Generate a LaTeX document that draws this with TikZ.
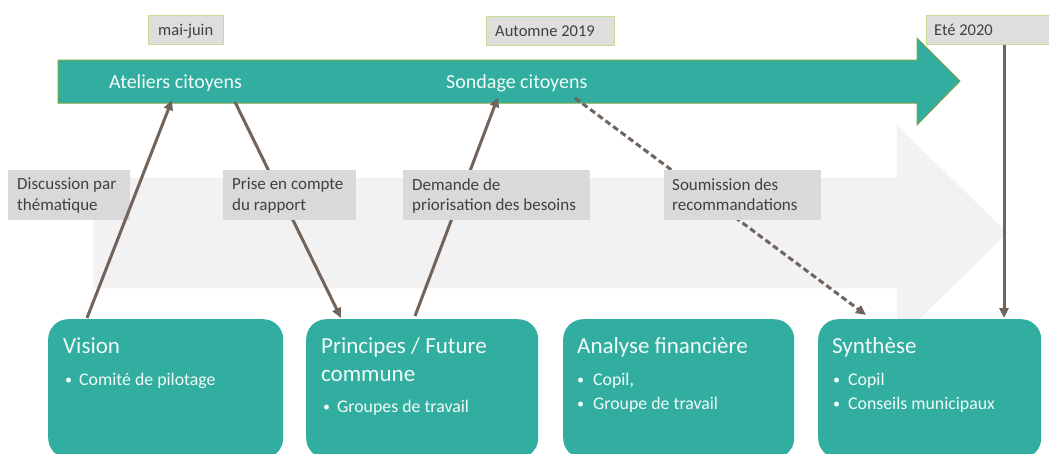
\documentclass[tikz,border=0pt]{standalone}
\usepackage{fontspec}
\setmainfont{Carlito}
\usetikzlibrary{arrows.meta,calc}
\definecolor{tealfill}{RGB}{49,174,160}
\definecolor{tealedge}{RGB}{125,165,70}
\definecolor{lgrey}{RGB}{242,242,242}
\definecolor{lblgrey}{RGB}{217,217,217}
\definecolor{dategrey}{RGB}{224,222,220}
\definecolor{dateedge}{RGB}{196,222,150}
\definecolor{connc}{RGB}{112,100,92}
\definecolor{txtgrey}{RGB}{64,64,64}
\definecolor{boxtxt}{RGB}{242,250,248}
\newcommand{\bul}[1]{\makebox[#1][l]{\raisebox{1pt}{\fontsize{14}{14}\selectfont •}}}
\begin{document}
\begin{tikzpicture}[x=1pt,y=-1pt,
  datebox/.style={draw=dateedge,line width=1.2pt,fill=dategrey,inner sep=0pt,anchor=north west},
  datetext/.style={text=txtgrey,font=\fontsize{16.5}{20}\selectfont,inner sep=0pt,anchor=base west},
  lblbox/.style={fill=lblgrey,inner sep=0pt,minimum height=50pt,anchor=north west},
  lbltext/.style={text=txtgrey,font=\fontsize{17}{20.8}\selectfont,inner sep=0pt,align=left,anchor=north west},
  stagebox/.style={fill=tealfill,rounded corners=20pt,inner sep=0pt,minimum height=139pt,anchor=north west},
  titletext/.style={text=boxtxt,font=\fontsize{23}{27.5}\selectfont,inner sep=0pt,anchor=base west,align=left},
  bullettext/.style={text=boxtxt,font=\fontsize{17.8}{24}\selectfont,inner sep=0pt,anchor=base west,align=left},
  arrowtext/.style={text=boxtxt,font=\fontsize{20}{24}\selectfont,inner sep=0pt,anchor=base west},
  conn/.style={draw=connc,line width=3pt,-{Triangle[length=10pt,width=9pt]}},
  dashconn/.style={conn,dash pattern=on 6pt off 3.5pt}]
\useasboundingbox (0,0) rectangle (1049,453);
\clip (0,0) rectangle (1049,453);
\fill[white] (0,0) rectangle (1049,453);

% background light grey arrow
\fill[lgrey] (93,178) -- (897,178) -- (897,125) -- (1007,233) -- (897,341) -- (897,288) -- (93,288) -- cycle;

% teal timeline arrow
\filldraw[fill=tealfill,draw=tealedge,line width=1pt] (58,60) -- (917,60) -- (917,38) -- (960,81) -- (917,125) -- (917,103) -- (58,103) -- cycle;
\node[arrowtext] (ateliers) at (109,88) {Ateliers citoyens};
\node[arrowtext] (sondage) at (446,88) {Sondage citoyens};

% date labels
\node[datebox,minimum width=75pt,minimum height=29pt] (mai) at (148,15) {};
\node[datetext] at (158,35) {mai-juin};
\node[datebox,minimum width=128pt,minimum height=29pt] (aut) at (486,16) {};
\node[datetext] at (495,36) {Automne 2019};
\node[datebox,minimum width=128pt,minimum height=29pt] (ete) at (926,15) {};
\node[datetext] at (934,35) {Eté 2020};

% stage boxes
\node[stagebox,minimum width=235pt] (vision) at (48,319) {};
\node[stagebox,minimum width=232pt] (princ) at (306,319) {};
\node[stagebox,minimum width=231pt] (analyse) at (563,319) {};
\node[stagebox,minimum width=223pt] (synth) at (818,319) {};

\node[titletext] at (63,353) {Vision};
\node[bullettext] at (65,385) {\bul{14pt}Comité de pilotage};

\node[titletext] at (321,353) {Principes / Future};
\node[titletext] at (321,381) {commune};
\node[bullettext] at (323,412) {\bul{14pt}Groupes de travail};

\node[titletext] at (577,353) {Analyse financière};
\node[bullettext] at (577,385) {\bul{16pt}Copil,};
\node[bullettext] at (577,409) {\bul{16pt}Groupe de travail};

\node[titletext] at (832,353) {Synthèse};
\node[bullettext] at (833,385) {\bul{15pt}Copil};
\node[bullettext] at (833,409) {\bul{15pt}Conseils municipaux};

% connector end points on the timeline
\coordinate (a1) at (172,100);
\coordinate (a2) at (235,102);
\coordinate (a3) at (498,97);
\coordinate (a4) at (575,98);

% connectors hidden behind the label boxes
\draw[conn] (a2) -- ($(princ.north west)+(35,-1)$);
\draw[conn] ($(princ.north west)+(109,-3)$) -- (a3);
\draw[dashconn] (a4) -- ($(synth.north west)+(48,-4)$);
\draw[conn] ($(ete.south west)+(78,0)$) -- ($(synth.north west)+(186,-1)$);

% label boxes
\node[lblbox,minimum width=122pt] (l1) at (8,170) {};
\node[lbltext] at (17,178) {Discussion par\\thématique};
\node[lblbox,minimum width=133pt] (l2) at (223,170) {};
\node[lbltext] at (232,178) {Prise en compte\\du rapport};
\node[lblbox,minimum width=187pt] (l3) at (403,170) {};
\node[lbltext] at (412,178) {Demande de\\priorisation des besoins};
\node[lblbox,minimum width=157pt] (l4) at (664,170) {};
\node[lbltext] at (672,178) {Soumission des\\recommandations};

% connector drawn over its label box
\draw[conn] ($(vision.north west)+(39,-1)$) -- (a1);
\end{tikzpicture}
\end{document}
